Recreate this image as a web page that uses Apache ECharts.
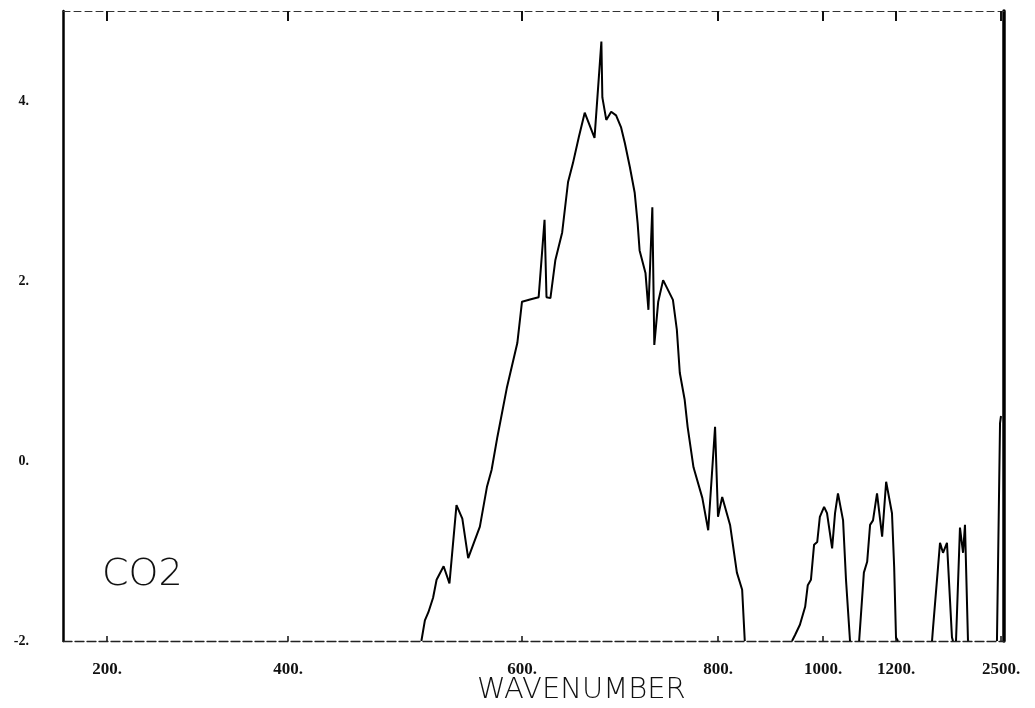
<!DOCTYPE html>
<html>
<head>
<meta charset="utf-8">
<script src="https://cdn.jsdelivr.net/npm/echarts@6/dist/echarts.min.js"></script>
<style>
  html, body { margin: 0; padding: 0; background: #fff; }
  #chart { width: 1035px; height: 708px; }
</style>
</head>
<body>
<div id="chart"></div>
<script>
// Tick marks of the wavenumber axis and of the absorption axis
const xTickWavenumbers = [200, 400, 600, 800, 1000, 1200, 2500];
const xTickLabels = ['200.', '400.', '600.', '800.', '1000.', '1200.', '2500.'];
const yTickValues = [-2, 0, 2, 4];
const yTickLabels = ['-2.', '0.', '2.', '4.'];

// CO2 bands: wavenumber and value
const mainBandWn = [514, 517, 520, 524, 527, 533, 538, 544, 549, 554, 564, 570, 574, 579, 587, 596, 600, 610, 617, 623,
  625, 629, 634, 641, 647, 652, 658, 664, 674, 681, 682, 686, 691, 696, 701, 705, 710, 715, 718, 720,
  726, 729, 733, 735, 739, 744, 754, 758, 761, 766, 769, 775, 784, 790, 797, 800, 808, 823, 836, 846, 851];
const mainBandVal = [-2.00, -1.77, -1.68, -1.52, -1.32, -1.17, -1.36, -0.49, -0.64, -1.08, -0.73, -0.29, -0.10, 0.27, 0.81, 1.31, 1.77, 1.80, 1.82, 2.68,
  1.82, 1.81, 2.23, 2.54, 3.10, 3.31, 3.60, 3.87, 3.59, 4.66, 4.04, 3.79, 3.88, 3.84, 3.71, 3.53, 3.27, 2.98, 2.64, 2.34,
  2.09, 1.68, 2.82, 1.29, 1.77, 2.01, 1.79, 1.46, 0.98, 0.68, 0.38, -0.07, -0.41, -0.77, 0.38, -0.62, -0.40, -0.71, -1.24, -1.43, -2.00];

const band1000Wn = [941, 947, 956, 966, 971, 977, 983, 989, 994, 1003, 1011, 1025, 1033, 1041, 1055, 1063, 1074];
const band1000Val = [-2, -1.93, -1.82, -1.62, -1.38, -1.32, -0.93, -0.90, -0.62, -0.51, -0.58, -0.97, -0.58, -0.36, -0.66, -1.32, -2];

const band1150Wn = [1099, 1112, 1121, 1129, 1137, 1148, 1162, 1173, 1178, 1189, 1195, 1200, 1225];
const band1150Val = [-2, -1.24, -1.12, -0.71, -0.66, -0.36, -0.84, -0.23, -0.23, -0.58, -1.18, -1.96, -2];

const band1750Wn = [1646, 1658, 1745, 1782, 1831, 1893, 1906];
const band1750Val = [-2, -1.86, -0.91, -1.02, -0.91, -1.96, -2];

const band2000Wn = [1943, 1992, 2030, 2054, 2091, 2097];
const band2000Val = [-2, -0.74, -1.02, -0.71, -1.99, -2];

const band2500Wn = [2450, 2488, 2500];
const band2500Val = [-2, 0.42, 0.50];

// The wavenumber scale is stretched differently between its labelled marks;
// each mark gets its own place along a plain 0..941 axis.
const axisStops = [44, 225, 459, 655, 760, 833, 938];
const AXIS_MAX = 941;

function toAxis(wn) {
  const W = xTickWavenumbers, S = axisStops;
  let i = 0;
  while (i < W.length - 2 && wn > W[i + 1]) i++;
  return S[i] + (wn - W[i]) * (S[i + 1] - S[i]) / (W[i + 1] - W[i]);
}

function bandData(wns, vals) {
  return wns.map((w, i) => [toAxis(w), vals[i]]);
}

const bands = [
  [mainBandWn, mainBandVal],
  [band1000Wn, band1000Val],
  [band1150Wn, band1150Val],
  [band1750Wn, band1750Val],
  [band2000Wn, band2000Val],
  [band2500Wn, band2500Val]
];

const chart = echarts.init(document.getElementById('chart'), null, { renderer: 'canvas' });

const labelFont = { fontFamily: 'Liberation Serif', fontWeight: 'bold', color: '#111' };

chart.setOption({
  animation: false,
  backgroundColor: '#fff',
  grid: { left: 63, right: 31, top: 11, bottom: 67 },
  xAxis: [
    {
      type: 'value', position: 'bottom', min: 0, max: AXIS_MAX,
      axisLine: { show: true, onZero: false, lineStyle: { color: '#222', width: 1.3, type: [9, 3] } },
      axisTick: { show: true, inside: true, length: 5, lineStyle: { color: '#111', width: 1.5 }, customValues: axisStops },
      axisLabel: {
        show: true, margin: 20, fontSize: 17, ...labelFont,
        customValues: axisStops,
        formatter: v => {
          const k = axisStops.indexOf(v);
          return k >= 0 ? xTickLabels[k] : '';
        }
      },
      splitLine: { show: false }
    },
    {
      type: 'value', position: 'top', min: 0, max: AXIS_MAX,
      axisLine: { show: true, onZero: false, lineStyle: { color: '#333', width: 1, type: [7, 4] } },
      axisTick: { show: true, inside: true, length: 10, lineStyle: { color: '#111', width: 2 }, customValues: axisStops },
      axisLabel: { show: false },
      splitLine: { show: false }
    }
  ],
  yAxis: [
    {
      type: 'value', position: 'left', min: -2, max: 5, interval: 2,
      axisLine: { show: true, onZero: false, lineStyle: { color: '#000', width: 2.5 } },
      axisTick: { show: false },
      axisLabel: {
        show: true, margin: 34, fontSize: 14, ...labelFont,
        customValues: yTickValues,
        formatter: v => {
          const k = yTickValues.indexOf(v);
          return k >= 0 ? yTickLabels[k] : '';
        }
      },
      splitLine: { show: false }
    },
    {
      type: 'value', position: 'right', min: -2, max: 5, interval: 2,
      axisLine: { show: true, onZero: false, lineStyle: { color: '#000', width: 3.5 } },
      axisTick: { show: false },
      axisLabel: { show: false },
      splitLine: { show: false }
    }
  ],
  series: bands.map(([wn, val]) => ({
    type: 'line',
    xAxisIndex: 0,
    yAxisIndex: 0,
    data: bandData(wn, val),
    showSymbol: false,
    symbol: 'none',
    lineStyle: { color: '#000', width: 2 },
    clip: false
  })),
  graphic: [
    {
      type: 'text', left: 102, top: 556,
      style: { text: 'CO2', font: '200 38px "DejaVu Sans"', fill: '#111' }
    },
    {
      type: 'text', left: 477, top: 676,
      style: { text: 'WAVENUMBER', font: '200 29px "DejaVu Sans"', fill: '#111' }
    }
  ]
});
</script>
</body>
</html>
